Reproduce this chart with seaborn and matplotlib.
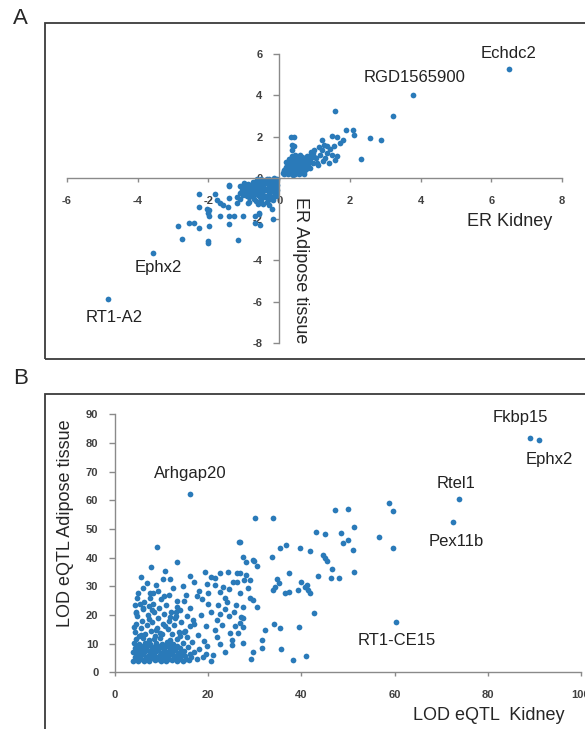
import matplotlib
matplotlib.use("Agg")
import matplotlib.pyplot as plt
from matplotlib.patches import Rectangle
import seaborn as sns

# ---- panel A: effect ratio, kidney vs adipose ----
er_kidney = [
    6.5, 3.79, -3.57, -4.84,
    3.21, 1.58, 1.9, 2.08, 2.12, 2.58, 2.88, 2.31, 1.65, 1.49, 1.65, 1.82, 1.71,
    0.34, 0.41, 0.36, 0.41, 0.36, 0.88, 0.97, 1.07, 1.16, 1.21, 1.3, 1.28, 1.4,
    1.54, 1.58, 1.2, 1.12, 1.0, 0.9, 1.05, 1.35, 1.45, 0.95, 1.1, 1.25, 0.85, 1.0,
    1.35, 1.5,
    0.12, 0.15, 0.18, 0.2, 0.22, 0.25, 0.25, 0.28, 0.3, 0.3, 0.33, 0.35, 0.37, 0.38,
    0.4, 0.42, 0.43, 0.45, 0.46, 0.48, 0.5, 0.5, 0.52, 0.54, 0.55, 0.57, 0.58, 0.6,
    0.6, 0.62, 0.64, 0.65, 0.66, 0.68, 0.7, 0.72, 0.73, 0.75, 0.77, 0.78, 0.8, 0.82,
    0.2, 0.28, 0.35, 0.45, 0.15, 0.4, 0.55, 0.7, 0.85, 0.88,
    0.14, 0.19, 0.24, 0.27, 0.32, 0.36, 0.41, 0.44, 0.47, 0.51, 0.53, 0.56, 0.59, 0.63,
    0.67, 0.69, 0.71, 0.74, 0.76, 0.79, 0.62, 0.48, 0.33, 0.56, 0.66, 0.52, 0.44, 0.71,
    -0.05, -0.1, -0.1, -0.15, -0.2, -0.22, -0.25, -0.3, -0.3, -0.35, -0.38, -0.4,
    -0.42, -0.45, -0.48, -0.5, -0.52, -0.55, -0.58, -0.6, -0.62, -0.65, -0.68, -0.7,
    -0.72, -0.75, -0.78, -0.8, -0.83, -0.85, -0.88, -0.9, -0.92, -0.95, -1.0, -1.02,
    -1.05, -1.1, -1.12, -0.15, -0.08, -0.25, -0.35, -0.6, -0.45, -0.12, -0.28, -0.5,
    -0.55, -0.65, -0.98, -0.18, -0.05,
    -0.07, -0.13, -0.17, -0.23, -0.27, -0.33, -0.37, -0.43, -0.47, -0.53, -0.57, -0.63,
    -0.67, -0.73, -0.77, -0.82, -0.87, -0.93, -0.97, -0.4, -0.32, -0.2, -0.1, -0.62,
    -0.75, -0.85, -0.45, -0.55, -0.3, -0.7,
    -2.85, -2.54, -2.42, -2.28, -1.99, -2.26, -1.81, -2.28, -2.05, -1.97, -2.0, -1.99,
    -1.75, -1.67, -1.58, -1.46, -1.43, -1.67, -1.42, -1.29, -1.43, -1.01, -0.68, -0.68,
    -0.54, -0.18, -1.1, -0.98, -0.9, -1.18, -0.87, -0.58, -2.75, -2.02, -2.01, -1.15,
    -1.43, -1.43, -0.3, -0.2, -1.19, -0.57,
]
er_adipose = [
    5.27, 4.03, -3.66, -5.88,
    2.98, 3.22, 2.33, 2.3, 2.09, 1.93, 1.84, 0.92, 1.04, 2.05, 2.0, 1.84, 1.68,
    1.97, 1.97, 1.6, 1.52, 1.36, 0.91, 1.2, 0.74, 1.12, 1.36, 0.95, 1.6, 0.71,
    1.52, 0.87, 1.85, 1.5, 1.0, 1.25, 0.95, 1.2, 1.4, 0.7, 0.6, 0.8, 1.05, 1.35,
    1.55, 1.1,
    0.25, 0.4, 0.55, 0.3, 0.45, 0.6, 0.2, 0.35, 0.5, 0.7, 0.25, 0.4, 0.6, 0.8,
    0.3, 0.5, 0.7, 0.9, 0.2, 0.4, 0.6, 0.8, 1.0, 0.3, 0.5, 0.7, 0.9, 1.1,
    0.25, 0.42, 0.62, 0.82, 1.0, 0.35, 0.55, 0.75, 0.95, 0.45, 0.65, 0.85, 1.05, 0.6,
    0.75, 0.9, 1.05, 1.1, 0.18, 0.15, 0.18, 0.2, 0.8, 0.5,
    0.32, 0.47, 0.28, 0.52, 0.38, 0.2, 0.42, 0.62, 0.33, 0.52, 0.72, 0.4, 0.8, 0.58,
    0.45, 0.9, 0.28, 0.55, 0.8, 0.72, 0.92, 1.05, 0.65, 0.35, 0.7, 0.85, 0.98, 0.5,
    -0.05, -0.2, -0.45, 0.0, -0.3, -0.6, -0.15, -0.4, -0.8, -0.05, -0.25, -0.55,
    -0.95, -0.15, -0.4, -0.7, -1.1, -0.3, -0.5, -0.85, -0.15, -0.65, -0.4, -1.0,
    -0.25, -0.55, -0.8, -0.4, -0.65, -1.15, -0.3, -0.5, -0.9, -0.7, -0.45, -0.85,
    -0.6, -1.0, -0.75, -0.7, -0.9, -1.0, -1.15, -1.25, -1.25, -0.3, -0.05, -0.05,
    -0.95, -1.1, -0.25, -1.05, -0.6,
    -0.35, -0.1, -0.55, -0.45, -0.7, -0.2, -0.6, -0.3, -0.85, -0.2, -0.75, -0.45,
    -0.25, -0.85, -0.35, -0.55, -0.75, -0.4, -0.55, -0.9, -1.0, -0.95, -0.75, -0.05,
    -0.2, -0.95, -0.6, -0.8, -0.65, -0.35,
    -2.33, -2.17, -2.17, -2.44, -2.33, -0.79, -0.79, -1.39, -1.52, -1.55, -1.72, -1.84,
    -1.07, -1.23, -1.31, -1.39, -0.39, -1.84, -1.84, -1.84, -2.23, -1.84, -1.84, -2.17,
    -2.28, -1.99, -0.39, -0.29, -0.39, -0.91, -1.23, -1.72, -2.96, -3.07, -3.15, -3.02,
    -0.99, -0.34, -1.3, -1.5, -1.22, -1.74,
]
a_names = ["Echdc2", "RGD1565900", "Ephx2", "RT1-A2"]
a_name_x = [6.5, 3.82, -3.42, -4.67]
a_name_y = [6.0, 4.84, -4.32, -6.75]

# ---- panel B: eQTL LOD scores ----
lod_kidney = [
    89.0, 91.0, 16.2, 73.9, 72.5, 60.4,
    58.7, 59.7, 59.6, 56.7, 47.2, 50.1, 51.3, 51.1, 51.3, 48.6, 48.9, 49.9, 43.1, 45.1,
    41.9, 44.6, 45.1, 45.6, 46.5, 46.3, 48.0, 43.6, 42.6, 40.9, 38.1, 39.5, 39.6, 36.8,
    35.4, 33.8, 30.0, 33.6, 29.8, 30.5, 26.8, 37.4, 34.7, 34.3, 34.0, 35.1, 36.5, 37.4,
    39.3, 40.0, 40.8, 41.5, 41.9, 41.3, 29.0, 28.6, 26.8, 27.7, 29.0, 29.6, 30.5, 28.1,
    28.2, 29.7, 27.4, 27.5, 27.4, 27.0, 26.8, 34.2, 35.4, 32.1, 31.5, 31.5, 29.7, 29.2,
    27.5, 35.6,
    9.1, 13.2, 7.7, 5.5, 10.8, 10.2, 6.1, 7.5, 8.2, 9.3, 4.8, 4.5, 26.7, 27.5, 19.3,
    20.7, 21.5, 22.5, 24.3, 26.1, 19.7, 21.5, 25.4, 26.1, 23.2, 17.5, 18.6, 23.6, 26.8,
    14.7, 13.2, 13.9, 16.1, 21.8, 21.5, 21.8, 24.7, 25.0, 26.5, 23.6, 25.0, 21.1,
    15.5, 17.0, 18.5, 19.5, 20.5, 22.5, 23.5, 24.5, 25.5, 17.8, 19.0, 16.5, 18.0, 19.5,
    15.0, 16.0, 20.0, 22.0, 24.0, 18.0, 20.0, 22.5, 24.5, 26.0, 15.2, 17.0, 14.5, 16.0,
    23.0, 25.8, 19.8, 22.5, 17.5, 20.5, 18.8,
    4.2, 4.5, 4.8, 5.2, 5.5, 5.8, 6.0, 6.3, 6.5, 6.8, 7.0, 7.2, 7.5, 7.8, 8.0, 8.3,
    8.6, 9.0, 9.2, 9.5, 9.8, 10.0, 10.3, 10.6, 11.0, 11.3, 11.6, 12.0, 12.3, 12.6, 13.0,
    13.4, 13.8, 14.2, 5.0, 6.8, 8.8, 11.5, 12.5, 11.8, 4.3, 10.5, 14.0, 15.5, 8.2,
    4.0, 5.6, 7.3, 8.9, 10.8, 12.9, 4.6, 6.1, 9.6, 11.9, 14.8, 16.7, 5.3, 7.9, 13.1,
    3.8, 5.0, 6.2, 7.4, 8.6, 9.8, 11.0, 12.2, 13.4, 14.6, 15.8,
    4.2, 5.4, 6.6, 7.8, 9.0, 10.2, 11.4, 12.6, 13.8, 15.0, 16.4,
    3.9, 5.1, 6.3, 7.5, 8.7, 9.9, 11.1, 12.3, 13.5, 14.7, 17.0,
    4.3, 5.5, 6.7, 7.9, 9.1, 10.3, 11.5, 12.7, 13.9, 15.6,
    4.0, 5.2, 6.4, 7.6, 8.8, 10.0, 11.2, 12.4, 14.5,
    4.6, 6.0, 7.2, 8.4, 9.6, 11.8, 13.2,
    4.4, 5.6, 6.8, 8.0, 9.2, 10.4, 11.6, 12.8, 14.0, 15.2,
    4.8, 6.0, 7.2, 8.4, 9.6, 10.8, 12.0, 13.2, 14.4, 16.0,
    4.5, 5.7, 6.9, 8.1, 9.3, 10.5, 11.7, 12.9, 14.2,
    4.9, 6.1, 7.3, 8.5, 9.7, 10.9, 12.1, 13.3,
]
lod_adipose = [
    81.6, 80.9, 62.1, 60.5, 52.3, 17.4,
    59.0, 56.4, 43.3, 47.3, 56.6, 57.0, 50.8, 42.7, 35.1, 48.7, 45.2, 46.2, 49.1, 48.1,
    42.4, 40.9, 39.8, 39.0, 35.9, 32.8, 32.8, 33.6, 20.8, 5.8, 4.3, 15.7, 43.3, 44.4,
    43.3, 54.0, 54.0, 40.3, 38.8, 37.1, 45.6, 34.8, 32.4, 29.9, 28.7, 31.2, 27.8, 28.1,
    28.7, 31.6, 29.9, 28.7, 27.6, 30.5, 32.2, 29.3, 34.5, 32.2, 25.8, 25.2, 22.7, 34.0,
    38.6, 39.2, 22.9, 18.8, 15.9, 19.4, 17.1, 16.9, 15.3, 14.8, 11.3, 8.4, 7.2, 4.7,
    10.1, 8.3,
    43.8, 38.4, 36.9, 33.1, 35.5, 32.4, 29.3, 27.8, 27.6, 28.5, 25.8, 21.2, 45.3, 40.3, 35.1,
    33.4, 32.8, 34.5, 35.1, 34.8, 30.8, 30.5, 31.6, 31.6, 29.7, 26.6, 25.5, 25.8, 27.6,
    24.7, 22.9, 21.7, 22.3, 18.3, 14.8, 12.4, 13.6, 11.3, 13.6, 7.2, 9.5, 6.0,
    19.5, 17.0, 20.0, 16.0, 21.0, 20.5, 22.0, 19.5, 21.0, 13.0, 11.0, 10.5, 8.0, 6.5,
    14.5, 16.0, 24.0, 23.5, 24.5, 28.5, 27.5, 28.0, 29.0, 23.5, 27.0, 31.5, 30.0, 33.5,
    16.5, 16.2, 9.2, 10.0, 4.5, 4.0, 5.5,
    14.0, 17.0, 19.5, 12.5, 15.5, 18.0, 22.0, 24.5, 13.5, 16.5, 20.0, 23.0, 26.0, 14.5,
    17.5, 21.0, 12.8, 15.5, 19.0, 22.5, 25.5, 13.5, 17.0, 20.5, 23.5, 15.0, 18.0, 21.0,
    13.2, 16.5, 19.5, 25.0, 14.0, 17.5, 27.5, 31.0, 30.5, 27.0, 29.5, 32.5, 23.5, 26.5,
    12.5, 12.2, 24.0,
    15.8, 13.1, 18.6, 14.9, 16.2, 18.8, 20.7, 22.4, 13.7, 19.2, 14.1, 18.4, 23.8, 21.8, 20.9,
    4.0, 3.8, 4.1, 3.9, 4.2, 3.8, 4.0, 4.3, 3.9, 4.1, 4.4,
    5.4, 5.7, 5.3, 5.6, 5.5, 5.8, 5.4, 5.6, 5.3, 5.7, 5.5,
    7.1, 6.9, 7.2, 7.0, 7.3, 6.8, 7.1, 7.2, 6.9, 7.4, 7.0,
    8.6, 8.3, 8.8, 8.4, 8.7, 8.5, 8.9, 8.3, 8.6, 8.8,
    10.1, 9.9, 10.3, 9.8, 10.2, 10.0, 10.4, 9.7, 10.2,
    11.5, 11.8, 11.3, 11.6, 11.9, 11.4, 11.7,
    4.7, 4.8, 4.6, 4.9, 4.7, 4.6, 4.8, 4.9, 4.7, 4.6,
    6.2, 6.3, 6.1, 6.4, 6.2, 6.0, 6.3, 6.1, 6.2, 6.4,
    7.8, 7.7, 7.9, 7.6, 7.8, 7.9, 7.7, 7.8, 7.6,
    9.3, 9.2, 9.4, 9.1, 9.3, 9.2, 9.4, 9.3,
]
b_names = ["Fkbp15", "Ephx2", "Arhgap20", "Rtel1", "Pex11b", "RT1-CE15"]
b_name_x = [86.9, 93.2, 16.2, 73.2, 73.3, 60.4]
b_name_y = [88.9, 74.2, 69.3, 65.9, 45.6, 11.1]

sns.set_style("white")
plt.rcParams["font.family"] = ["Liberation Sans", "DejaVu Sans"]
plt.rcParams["axes.unicode_minus"] = False

W, H = 585, 729
dot_color = "#2a7ab9"
axis_gray = "#8a8a8a"
tick_col = "#404040"

fig = plt.figure(figsize=(W / 100, H / 100), dpi=100)


def frac(x0, y0, x1, y1):
    # pixel box -> figure fraction [left, bottom, width, height]
    return [x0 / W, 1 - y1 / H, (x1 - x0) / W, (y1 - y0) / H]


# panel A
axA = fig.add_axes(frac(67, 54, 562, 343))
sns.scatterplot(x=er_kidney, y=er_adipose, ax=axA, color=dot_color, s=17,
                linewidth=0, legend=False)
axA.set_xlim(-6, 8)
axA.set_ylim(-8, 6)
axA.set_xticks(range(-6, 9, 2))
axA.set_yticks(range(-8, 7, 2))
axA.spines["left"].set_position(("data", 0))
axA.spines["bottom"].set_position(("data", 0))
for s in ["top", "right"]:
    axA.spines[s].set_visible(False)
for n, x, y in zip(a_names, a_name_x, a_name_y):
    axA.text(x, y, n, ha="center", va="center", fontsize=12, color="#222222")

# panel B
axB = fig.add_axes(frac(115, 414.3, 581, 672.3))
sns.scatterplot(x=lod_kidney, y=lod_adipose, ax=axB, color=dot_color, s=17,
                linewidth=0, legend=False)
axB.set_xlim(0, 100)
axB.set_ylim(0, 90)
axB.set_xticks(range(0, 101, 20))
axB.set_yticks(range(0, 91, 10))
for s in ["top", "right"]:
    axB.spines[s].set_visible(False)
for n, x, y in zip(b_names, b_name_x, b_name_y):
    axB.text(x, y, n, ha="center", va="center", fontsize=12, color="#222222")

for ax in (axA, axB):
    ax.set_facecolor("none")
    for s in ["left", "bottom"]:
        ax.spines[s].set_color(axis_gray)
        ax.spines[s].set_linewidth(1.0)
    ax.tick_params(axis="x", direction="out", length=3, width=1, color=axis_gray,
                   labelsize=8, labelcolor=tick_col, pad=10)
    ax.tick_params(axis="y", direction="out", length=4, width=1, color=axis_gray,
                   labelsize=8, labelcolor=tick_col, pad=8)
    ax.tick_params(bottom=True, left=True)
    for lab in ax.get_xticklabels() + ax.get_yticklabels():
        lab.set_fontweight("bold")
    ax.set_xlabel("")
    ax.set_ylabel("")

# axis titles and panel letters
fig.text(510 / W, 1 - 221 / H, "ER Kidney", ha="center", va="center", fontsize=13)
fig.text(301 / W, 1 - 270 / H, "ER Adipose tissue", ha="center", va="center",
         fontsize=13, rotation=-90)
fig.text(489 / W, 1 - 715 / H, "LOD eQTL  Kidney", ha="center", va="center", fontsize=13)
fig.text(65 / W, 1 - 523 / H, "LOD eQTL Adipose tissue", ha="center", va="center",
         fontsize=13, rotation=90)
fig.text(13 / W, 1 - 18 / H, "A", ha="left", va="center", fontsize=16)
fig.text(13 / W, 1 - 378 / H, "B", ha="left", va="center", fontsize=16)

# panel frames (run off the right/bottom edge like the original)
fig.add_artist(Rectangle((44.8 / W, 1 - 359 / H), 0.95, (359 - 23) / H,
                         transform=fig.transFigure, fill=False,
                         edgecolor="#3a3a3a", linewidth=1.3))
fig.add_artist(Rectangle((44.8 / W, -0.05), 0.95, 1 - 394 / H + 0.05,
                         transform=fig.transFigure, fill=False,
                         edgecolor="#3a3a3a", linewidth=1.3))

fig.savefig("out.png", dpi=100)
